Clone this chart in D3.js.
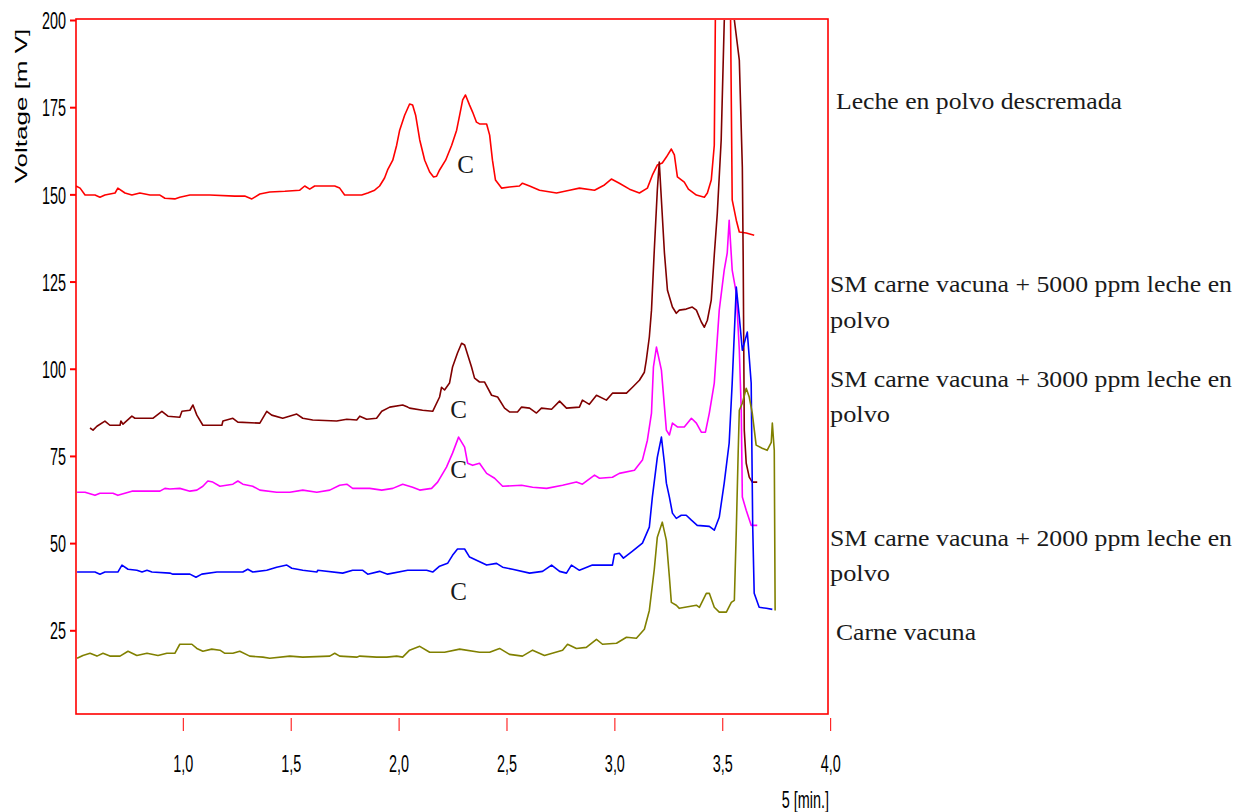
<!DOCTYPE html>
<html>
<head>
<meta charset="utf-8">
<script src="https://cdn.jsdelivr.net/npm/d3@7"></script>
<style>
  body { margin: 0; background: #fff; }
  svg { display: block; }
</style>
</head>
<body>
<main></main>
<script>
const width = 1235;
const height = 812;
const box = {left: 76, right: 828, top: 20, bottom: 714};

// tick values
const xTicks = [1.0, 1.5, 2.0, 2.5, 3.0, 3.5, 4.0];
const yTicks = [25, 50, 75, 100, 125, 150, 175, 200];

// [time min, mV]
const lecheDescremada = [
  [0.505,152.4],[0.524,151.8],[0.547,149.8],[0.593,149.8],[0.616,149.2],[0.639,149.8],[0.686,150.4],
  [0.699,151.8],[0.732,150.4],[0.764,149.8],[0.801,150.4],[0.848,149.8],[0.894,149.8],[0.917,148.9],
  [0.963,148.7],[0.986,149.2],[1.033,149.8],[1.125,149.8],[1.241,149.5],[1.287,149.5],[1.320,148.7],
  [1.357,150.1],[1.403,150.7],[1.473,150.9],[1.542,151.2],[1.565,152.4],[1.588,151.5],[1.611,152.4],
  [1.704,152.4],[1.727,151.8],[1.750,149.8],[1.829,149.8],[1.857,150.4],[1.889,151.2],[1.912,152.4],
  [1.935,154.7],[1.949,157.0],[1.973,159.8],[1.991,164.1],[2.005,168.4],[2.028,172.7],[2.051,175.9],
  [2.065,175.6],[2.079,172.7],[2.098,165.6],[2.121,159.8],[2.144,156.4],[2.162,155.0],[2.176,155.2],
  [2.190,157.0],[2.218,159.8],[2.246,164.1],[2.269,168.4],[2.283,172.7],[2.297,177.1],[2.310,178.5],
  [2.329,175.6],[2.343,173.6],[2.361,170.7],[2.375,170.2],[2.408,170.2],[2.422,167.0],[2.435,159.8],
  [2.449,154.1],[2.477,151.8],[2.514,152.1],[2.560,152.4],[2.574,153.2],[2.607,152.4],[2.653,151.2],
  [2.732,150.4],[2.792,151.2],[2.838,151.8],[2.908,151.2],[2.954,152.7],[2.986,154.4],[3.023,153.2],
  [3.070,151.5],[3.116,150.4],[3.153,151.8],[3.176,155.5],[3.199,158.4],[3.222,159.0],[3.241,160.7],
  [3.264,163.0],[3.278,161.3],[3.292,155.0],[3.324,153.5],[3.343,151.5],[3.380,149.8],[3.417,149.2],
  [3.431,150.4],[3.449,154.1],[3.463,164.1],[3.470,215.0],[3.505,280.0],[3.537,210.0],[3.546,148.4],
  [3.565,142.6],[3.579,139.2],[3.611,138.9],[3.648,138.3]
];

const sm5000 = [
  [0.570,83.0],[0.584,82.4],[0.602,83.5],[0.639,85.0],[0.662,83.8],[0.709,83.8],[0.713,85.0],[0.723,84.1],
  [0.764,86.4],[0.778,85.8],[0.861,85.8],[0.903,87.8],[0.931,86.4],[0.986,86.1],[0.996,87.8],[1.033,88.1],
  [1.047,89.6],[1.065,86.7],[1.093,83.8],[1.181,83.8],[1.186,85.0],[1.232,85.8],[1.255,84.7],[1.357,84.4],
  [1.389,87.8],[1.412,86.7],[1.463,85.8],[1.528,87.0],[1.556,85.8],[1.602,85.3],[1.713,85.0],[1.760,85.5],
  [1.806,85.3],[1.820,86.4],[1.852,85.5],[1.898,85.8],[1.922,87.8],[1.959,89.0],[2.019,89.6],[2.042,89.0],
  [2.051,88.7],[2.111,88.1],[2.158,87.8],[2.190,91.9],[2.199,94.7],[2.213,93.9],[2.236,95.9],[2.250,100.5],
  [2.273,104.5],[2.292,107.3],[2.306,106.8],[2.338,100.5],[2.352,97.3],[2.375,96.2],[2.398,96.2],[2.431,92.4],
  [2.459,91.9],[2.491,88.7],[2.514,87.6],[2.551,87.6],[2.570,89.0],[2.607,88.7],[2.639,87.3],[2.662,88.7],
  [2.709,88.4],[2.746,90.7],[2.778,88.7],[2.838,89.0],[2.852,91.0],[2.884,89.8],[2.917,92.4],[2.963,91.0],
  [2.991,93.0],[3.056,93.0],[3.084,94.7],[3.116,96.7],[3.139,99.0],[3.148,102.5],[3.162,109.1],[3.172,116.8],
  [3.185,134.0],[3.199,151.2],[3.208,159.3],[3.218,148.4],[3.232,133.2],[3.246,122.5],[3.269,117.7],
  [3.287,115.9],[3.301,116.8],[3.333,117.1],[3.361,117.7],[3.380,116.8],[3.403,113.4],[3.417,111.9],
  [3.431,113.9],[3.449,119.7],[3.463,132.6],[3.477,144.6],[3.495,165.6],[3.509,199.1],[3.532,240.0],
  [3.556,200.0],[3.579,188.5],[3.593,157.8],[3.597,131.2],[3.602,82.4],[3.611,72.9],[3.625,68.9],
  [3.639,67.5],[3.662,67.5]
];

const sm3000 = [
  [0.510,64.6],[0.547,64.6],[0.593,63.7],[0.616,64.3],[0.676,64.3],[0.699,63.7],[0.764,64.9],[0.894,64.9],
  [0.917,65.7],[0.940,65.5],[0.986,65.7],[1.033,64.9],[1.065,65.2],[1.093,66.3],[1.116,67.8],[1.139,67.5],
  [1.172,66.3],[1.232,66.9],[1.255,67.8],[1.278,66.9],[1.324,66.3],[1.357,65.2],[1.435,64.6],[1.496,64.6],
  [1.556,65.2],[1.621,64.6],[1.681,65.2],[1.727,66.6],[1.760,66.9],[1.787,65.7],[1.866,65.7],[1.922,65.2],
  [1.973,65.7],[2.019,66.9],[2.065,66.0],[2.098,65.2],[2.153,65.7],[2.181,67.5],[2.222,71.8],[2.250,75.8],
  [2.278,80.4],[2.306,77.5],[2.320,72.9],[2.343,72.3],[2.375,72.9],[2.408,70.0],[2.445,68.6],[2.482,66.3],
  [2.570,66.6],[2.621,66.0],[2.686,65.7],[2.760,66.6],[2.824,67.5],[2.852,66.9],[2.908,69.5],[2.931,68.6],
  [2.991,68.9],[3.023,70.0],[3.093,70.9],[3.130,73.8],[3.153,79.5],[3.172,87.3],[3.181,100.5],[3.195,106.2],
  [3.218,99.6],[3.241,82.4],[3.255,81.0],[3.269,84.4],[3.292,83.3],[3.324,83.3],[3.357,85.8],[3.380,84.4],
  [3.403,81.8],[3.422,81.8],[3.440,87.3],[3.463,95.9],[3.486,116.8],[3.509,128.3],[3.523,133.2],
  [3.532,142.6],[3.546,128.3],[3.565,121.7],[3.579,105.3],[3.588,88.1],[3.593,63.2],[3.611,59.4],
  [3.634,55.1],[3.662,55.1]
];

const sm2000 = [
  [0.510,41.7],[0.593,41.7],[0.616,41.1],[0.639,41.7],[0.699,41.7],[0.718,43.7],[0.746,42.5],[0.787,42.2],
  [0.811,41.7],[0.834,42.2],[0.857,41.7],[0.940,41.4],[0.954,41.1],[1.033,41.1],[1.061,40.2],[1.088,41.1],
  [1.158,41.7],[1.278,41.7],[1.301,42.5],[1.324,41.7],[1.389,42.2],[1.435,43.1],[1.482,43.7],[1.505,42.8],
  [1.556,42.2],[1.621,41.7],[1.625,42.2],[1.741,41.4],[1.787,42.2],[1.834,42.2],[1.857,41.1],[1.912,41.9],
  [1.949,41.1],[2.042,42.2],[2.130,42.2],[2.158,41.7],[2.190,43.4],[2.227,44.2],[2.250,46.5],[2.273,48.3],
  [2.306,48.3],[2.329,46.0],[2.361,45.1],[2.408,43.7],[2.454,44.2],[2.482,43.1],[2.528,42.5],[2.607,41.4],
  [2.667,41.9],[2.709,43.7],[2.746,41.9],[2.778,41.4],[2.801,43.7],[2.838,42.2],[2.898,43.7],[2.991,43.7],
  [3.000,46.8],[3.023,47.1],[3.042,45.7],[3.084,47.7],[3.130,50.0],[3.162,54.6],[3.176,63.2],[3.199,74.6],
  [3.218,80.4],[3.232,72.9],[3.241,67.2],[3.255,63.2],[3.269,58.6],[3.287,57.1],[3.310,58.0],[3.333,58.0],
  [3.357,56.6],[3.384,55.1],[3.440,54.8],[3.463,53.7],[3.486,57.4],[3.509,67.2],[3.532,78.7],[3.546,95.9],
  [3.565,123.4],[3.579,114.8],[3.593,105.3],[3.616,110.5],[3.634,95.9],[3.641,55.0],[3.648,35.6],
  [3.671,31.6],[3.704,31.3],[3.732,31.0]
];

const carneVacuna = [
  [0.510,17.0],[0.537,17.8],[0.570,18.4],[0.602,17.6],[0.630,18.4],[0.662,17.6],[0.709,17.6],[0.746,19.0],
  [0.787,17.8],[0.834,18.4],[0.885,17.8],[0.926,18.4],[0.963,18.4],[0.986,21.0],[1.042,21.0],[1.065,19.8],
  [1.093,19.0],[1.134,19.6],[1.172,19.3],[1.195,18.4],[1.232,18.4],[1.264,19.0],[1.310,17.6],[1.371,17.3],
  [1.403,17.0],[1.496,17.6],[1.556,17.3],[1.681,17.6],[1.704,18.4],[1.727,17.6],[1.806,17.3],[1.820,17.6],
  [1.898,17.3],[1.945,17.3],[1.991,17.6],[2.019,17.3],[2.051,19.3],[2.098,20.4],[2.144,18.7],[2.213,18.7],
  [2.283,19.6],[2.375,18.7],[2.422,18.7],[2.468,19.8],[2.514,18.1],[2.574,17.6],[2.621,19.3],[2.676,17.8],
  [2.760,19.3],[2.783,21.0],[2.824,19.8],[2.870,20.1],[2.917,22.4],[2.945,21.0],[3.010,21.3],[3.056,23.0],
  [3.102,22.7],[3.139,25.3],[3.162,30.7],[3.185,42.5],[3.199,51.7],[3.222,56.0],[3.241,50.8],[3.255,40.2],
  [3.264,33.0],[3.287,32.2],[3.301,31.3],[3.380,32.2],[3.394,31.6],[3.426,35.6],[3.440,35.6],[3.463,31.6],
  [3.486,30.2],[3.519,30.2],[3.542,33.0],[3.556,33.6],[3.565,53.7],[3.574,76.6],[3.579,88.1],[3.593,90.1],
  [3.611,94.4],[3.625,91.9],[3.639,87.3],[3.657,78.1],[3.685,77.2],[3.708,76.6],[3.727,78.9],[3.732,84.4],
  [3.741,76.6],[3.745,30.7]
];

const series = [
  {name: 'lecheDescremada', values: lecheDescremada, color: '#ff0000'},
  {name: 'sm5000', values: sm5000, color: '#800000'},
  {name: 'sm3000', values: sm3000, color: '#ff00ff'},
  {name: 'sm2000', values: sm2000, color: '#0000ff'},
  {name: 'carneVacuna', values: carneVacuna, color: '#808000'}
];

// legend lines and their baselines
const legendLines = [
  {text: 'Leche en polvo descremada', x: 836, y: 109, w: 286},
  {text: 'SM carne vacuna + 5000 ppm leche en', x: 830, y: 292, w: 402},
  {text: 'polvo', x: 830, y: 328, w: 60},
  {text: 'SM carne vacuna + 3000 ppm leche en', x: 830, y: 387, w: 402},
  {text: 'polvo', x: 830, y: 422, w: 60},
  {text: 'SM carne vacuna + 2000 ppm leche en', x: 830, y: 546, w: 402},
  {text: 'polvo', x: 830, y: 581, w: 60},
  {text: 'Carne vacuna', x: 836, y: 640, w: 140}
];

// "C" marks: [time, mV]
const cMarks = [[2.310, 156.0], [2.278, 85.8], [2.278, 68.6], [2.278, 33.8]];

const svg = d3.select('main')
  .append('svg')
  .attr('width', width)
  .attr('height', height);

const x = d3.scaleLinear().domain([0.505, 3.99]).range([box.left, box.right]);
const y = d3.scaleLinear().domain([1, 200]).range([box.bottom, box.top]);

svg.append('clipPath').attr('id', 'plot')
  .append('rect')
  .attr('x', box.left).attr('y', box.top)
  .attr('width', box.right - box.left).attr('height', box.bottom - box.top);

const line = d3.line()
  .x(d => x(d[0]))
  .y(d => y(d[1]));

svg.append('g')
  .attr('clip-path', 'url(#plot)')
  .selectAll('path')
  .data(series)
  .enter()
  .append('path')
  .attr('d', d => line(d.values))
  .attr('fill', 'none')
  .attr('stroke', d => d.color)
  .attr('stroke-width', 1.6)
  .attr('stroke-linejoin', 'round');

// frame
svg.append('rect')
  .attr('x', box.left).attr('y', box.top - 1)
  .attr('width', box.right - box.left).attr('height', box.bottom - box.top + 1)
  .attr('fill', 'none')
  .attr('stroke', '#ff0000')
  .attr('stroke-width', 1.6);

// the tick fonts are squeezed sideways in the original
const squeeze = 0.6;

// y axis
const yAxis = svg.append('g')
  .attr('transform', `translate(${box.left},0)`)
  .call(d3.axisLeft(y).tickValues(yTicks).tickSize(6).tickPadding(4));
yAxis.select('.domain').remove();
yAxis.selectAll('line').attr('stroke', '#ff0000').attr('stroke-width', 2);
yAxis.selectAll('text')
  .attr('font-family', 'Liberation Sans, Arial, sans-serif')
  .attr('font-size', 24)
  .attr('fill', '#000')
  .attr('dy', '0.36em')
  .attr('x', -10 / squeeze)
  .attr('transform', `scale(${squeeze},1)`);

// x axis, detached below the frame
const xAxis = svg.append('g')
  .attr('transform', `translate(0,${box.bottom + 4})`)
  .call(d3.axisBottom(x).tickValues(xTicks).tickSizeInner(13).tickSizeOuter(0)
    .tickFormat(d => d3.format('.1f')(d).replace('.', ',')));
xAxis.select('.domain').remove();
xAxis.selectAll('line').attr('stroke', '#ff0000').attr('stroke-width', 1);
xAxis.selectAll('text')
  .attr('font-family', 'Liberation Sans, Arial, sans-serif')
  .attr('font-size', 24)
  .attr('fill', '#000')
  .attr('y', 54)
  .attr('dy', 0)
  .attr('transform', `scale(${squeeze},1)`);

svg.append('text')
  .attr('transform', `translate(${box.right + 1},${box.bottom + 94}) scale(${squeeze},1)`)
  .attr('text-anchor', 'end')
  .attr('font-family', 'Liberation Sans, Arial, sans-serif')
  .attr('font-size', 24)
  .text('5 [min.]');

svg.append('text')
  .attr('transform', `translate(27,106) scale(${squeeze},1) rotate(-90)`)
  .attr('text-anchor', 'middle')
  .attr('font-family', 'Liberation Sans, Arial, sans-serif')
  .attr('font-size', 26)
  .text('Voltage [m V]');

// legend
svg.append('g')
  .selectAll('text')
  .data(legendLines)
  .enter()
  .append('text')
  .attr('x', d => d.x)
  .attr('y', d => d.y)
  .attr('textLength', d => d.w)
  .attr('lengthAdjust', 'spacingAndGlyphs')
  .attr('font-family', 'Liberation Serif, serif')
  .attr('font-size', 24)
  .attr('fill', '#1a1a1a')
  .text(d => d.text);

svg.append('g')
  .selectAll('text')
  .data(cMarks)
  .enter()
  .append('text')
  .attr('x', d => x(d[0]))
  .attr('y', d => y(d[1]))
  .attr('text-anchor', 'middle')
  .attr('font-family', 'Liberation Serif, serif')
  .attr('font-size', 25)
  .attr('fill', '#1a1a1a')
  .text('C');
</script>
</body>
</html>
